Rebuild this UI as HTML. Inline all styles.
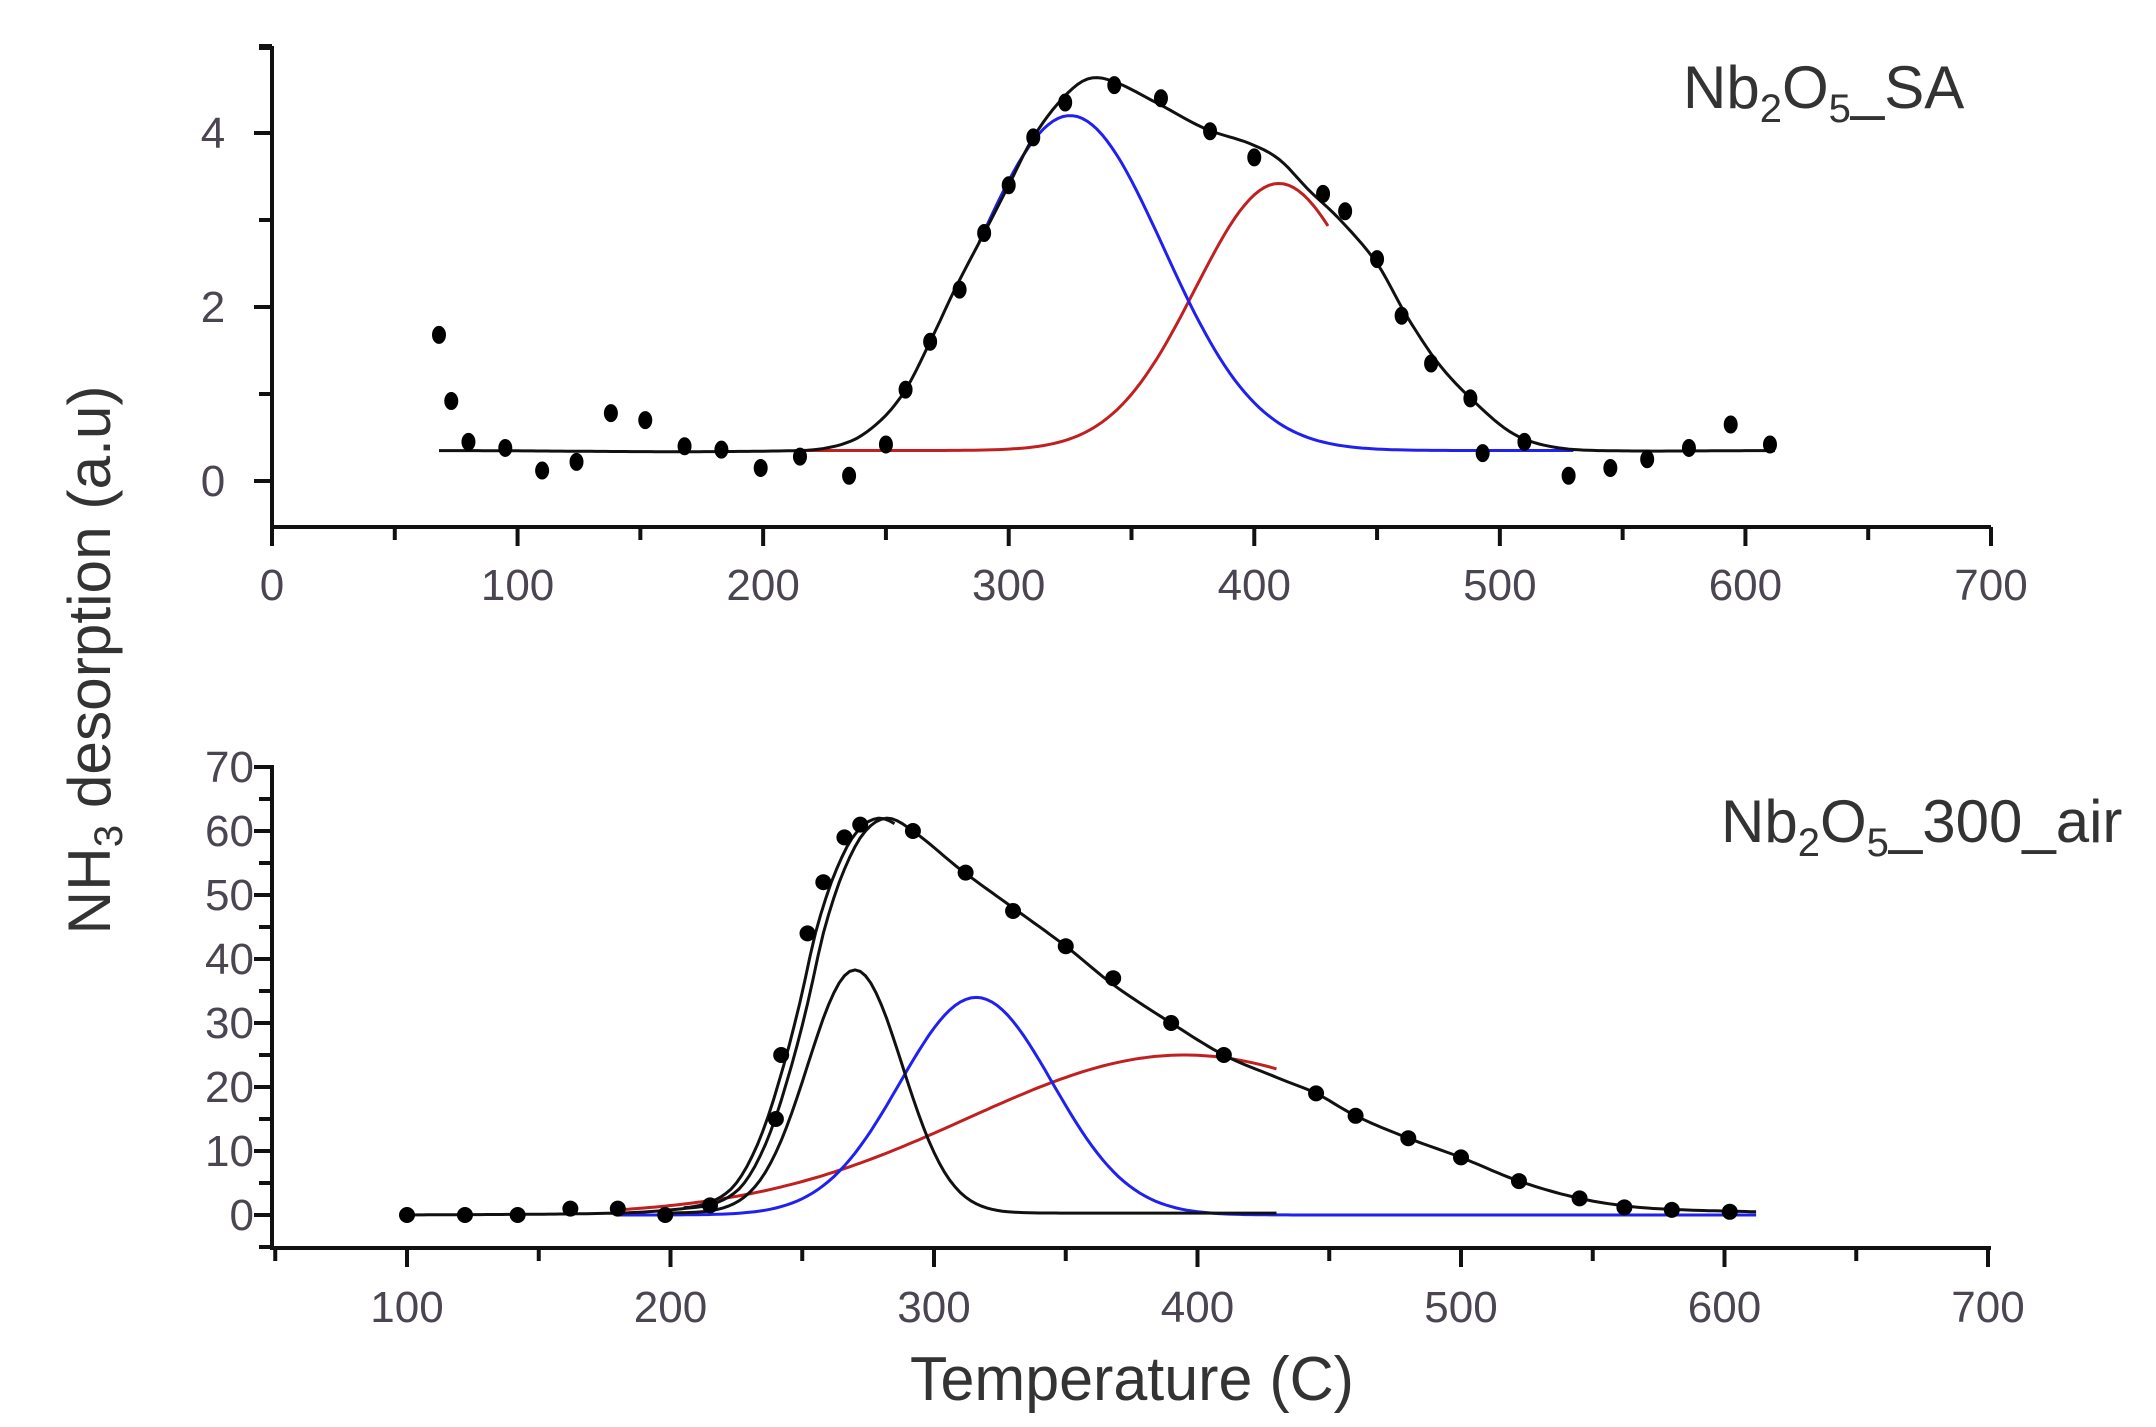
<!DOCTYPE html>
<html><head><meta charset="utf-8"><style>
html,body{margin:0;padding:0;background:#fff;}
svg{display:block;}
text{font-family:"Liberation Sans",Arial,sans-serif;}
</style></head><body>
<svg id="s" width="2156" height="1427" xmlns="http://www.w3.org/2000/svg">
<g id="g"></g>
<text x="1683" y="108" font-size="60" fill="#333">Nb<tspan font-size="40" dy="14">2</tspan><tspan dy="-14">O</tspan><tspan font-size="40" dy="14">5</tspan><tspan dy="-14">_SA</tspan></text>
<text x="1721" y="842" font-size="60" fill="#333">Nb<tspan font-size="40" dy="14">2</tspan><tspan dy="-14">O</tspan><tspan font-size="40" dy="14">5</tspan><tspan dy="-14">_300_air</tspan></text>
<text transform="translate(110,660) rotate(-90)" text-anchor="middle" font-size="60" fill="#333" textLength="549" lengthAdjust="spacingAndGlyphs">NH<tspan font-size="40" dy="12">3</tspan><tspan dy="-12"> desorption (a.u)</tspan></text>
<text x="1132" y="1400" text-anchor="middle" font-size="62" fill="#333" textLength="444" lengthAdjust="spacingAndGlyphs">Temperature (C)</text>
</svg>
<script>
var g=document.getElementById('g');var h='';
function ln(x1,y1,x2,y2,c,w){h+='<line x1="'+x1+'" y1="'+y1+'" x2="'+x2+'" y2="'+y2+'" stroke="'+(c||'#111')+'" stroke-width="'+(w||4)+'"/>';}
function tx(x,y,s,a){h+='<text x="'+x+'" y="'+y+'" font-size="44" fill="#4a4550" text-anchor="'+(a||'middle')+'">'+s+'</text>';}
var TX=function(v){return 272+v*2.4557;},TY=function(v){return 481-v*87;};
ln(272,46,272,529);ln(270,527,1991,527);
for(var v=0;v<=700;v+=50){ln(TX(v),527,TX(v),v%100?540:546);if(v%100==0)tx(TX(v),600,v);}
for(var v=0;v<=5;v+=1){ln(272,TY(v),v%2?259:254,TY(v));if(v%2==0&&v<=4)tx(213,TY(v)+15,v);}
ln(272,48,259,48);
var BX=function(v){return 407+(v-100)*2.635;},BY=function(v){return 1215-v*6.4;};
ln(272,765,272,1250);ln(270,1248,1991,1248);
for(var v=50;v<=700;v+=50){ln(BX(v),1248,BX(v),v%100?1261:1267);if(v%100==0&&v>=100)tx(BX(v),1322,v);}
for(var v=0;v<=70;v+=5){ln(272,BY(v),v%10?259:254,BY(v));if(v%10==0)tx(254,BY(v)+15,v,'end');}
ln(272,BY(-5),259,BY(-5));
function G(x,c,a,s){return a*Math.exp(-(x-c)*(x-c)/(2*s*s));}
function interp(T){return function(x){if(x<=T[0][0])return T[0][1];for(var i=0;i<T.length-1;i++){if(x<=T[i+1][0]){var p0=T[Math.max(i-1,0)],p1=T[i],p2=T[i+1],p3=T[Math.min(i+2,T.length-1)];var t=(x-p1[0])/(p2[0]-p1[0]);var m1=(p2[1]-p0[1])/(p2[0]-p0[0])*(p2[0]-p1[0]),m2=(p3[1]-p1[1])/(p3[0]-p1[0])*(p2[0]-p1[0]);var t2=t*t,t3=t2*t;return (2*t3-3*t2+1)*p1[1]+(t3-2*t2+t)*m1+(-2*t3+3*t2)*p2[1]+(t3-t2)*m2;}}return T[T.length-1][1];};}
function path(f,x0,x1,X,Y,col,w){var d='';for(var x=x0;x<=x1;x+=2){d+=(x==x0?'M':'L')+X(x).toFixed(1)+','+Y(f(x)).toFixed(1);}h+='<path d="'+d+'" fill="none" stroke="'+col+'" stroke-width="'+(w||3)+'"/>';}
var b1=function(x){return 0.35+G(x,325,3.85,38);},r1=function(x){return 0.35+G(x,410,3.07,34);};
var s1=interp([[68,0.35],[215,0.35],[235,0.45],[248,0.7],[258,1.05],[268,1.6],[278,2.2],[290,2.85],[300,3.4],[310,3.95],[322,4.4],[332,4.62],[342,4.6],[360,4.35],[380,4.05],[398,3.88],[410,3.7],[422,3.35],[435,3.0],[450,2.5],[462,1.9],[475,1.35],[490,0.9],[505,0.55],[520,0.4],[540,0.35],[612,0.35]]);
path(r1,216,430,TX,TY,'#c02020');path(b1,288,530,TX,TY,'#2020f0');path(s1,68,612,TX,TY,'#111');
var pts=[[68,1.68],[73,0.92],[80,0.45],[95,0.38],[110,0.12],[124,0.22],[138,0.78],[152,0.7],[168,0.4],[183,0.36],[199,0.15],[215,0.28],[235,0.06],[250,0.42],[258,1.05],[268,1.6],[280,2.2],[290,2.85],[300,3.4],[310,3.95],[323,4.35],[343,4.55],[362,4.4],[382,4.02],[400,3.72],[428,3.3],[437,3.1],[450,2.55],[460,1.9],[472,1.35],[488,0.95],[493,0.32],[510,0.45],[528,0.06],[545,0.15],[560,0.25],[577,0.38],[594,0.65],[610,0.42]];
pts.forEach(function(p){h+='<ellipse cx="'+TX(p[0])+'" cy="'+TY(p[1])+'" rx="7" ry="9" fill="#000"/>';});
var k2=function(x){return G(x,270,38,18);},bb=function(x){return G(x,316,34,29);},rr=function(x){return G(x,395,25,82);};
var s2=interp([[100,0],[180,0.3],[205,1],[218,2],[228,5],[237,12],[245,22],[252,33],[258,44],[265,53],[273,59.5],[282,62],[292,60],[310,54],[330,48],[350,42],[368,36],[390,30],[410,25],[430,21.5],[445,19],[460,15.5],[480,12],[500,9],[522,5.3],[545,2.6],[565,1.3],[585,0.8],[612,0.5]]);
path(rr,180,430,BX,BY,'#c02020');path(bb,180,612,BX,BY,'#2020f0');path(function(x){return k2(x)+0.3;},200,430,BX,BY,'#111');
path(s2,100,612,BX,BY,'#111');path(function(x){return s2(x+3);},205,285,BX,BY,'#111');
var p2=[[100,0],[122,0],[142,0],[162,1],[180,1],[198,0],[215,1.5],[240,15],[242,25],[252,44],[258,52],[266,59],[272,61],[292,60],[312,53.5],[330,47.5],[350,42],[368,37],[390,30],[410,25],[445,19],[460,15.5],[480,12],[500,9],[522,5.3],[545,2.6],[562,1.2],[580,0.8],[602,0.5]];
p2.forEach(function(p){h+='<ellipse cx="'+BX(p[0])+'" cy="'+BY(p[1])+'" rx="8" ry="8" fill="#000"/>';});
g.innerHTML=h;
</script>
</body></html>
